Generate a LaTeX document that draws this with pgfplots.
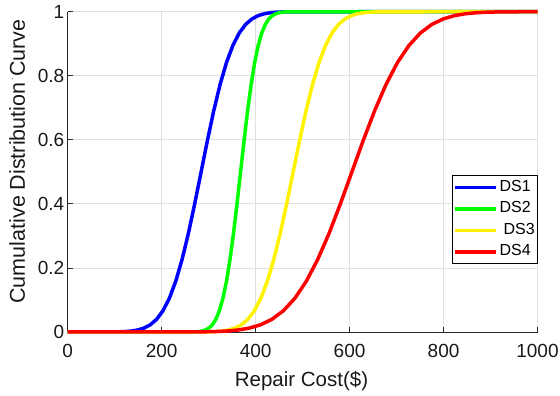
\documentclass[border=0pt]{standalone}
\usepackage{pgfplots}
\pgfplotsset{compat=1.18}
\usepackage{pgfplotstable}
\usepackage{fontspec}
\setmainfont{Liberation Sans}
\definecolor{gridc}{gray}{0.88}
\definecolor{axc}{gray}{0.15}
\newcommand\lf{\fontsize{16}{18}\selectfont}
\pgfplotstableread{
p       x1     x2     x3      x4
0       0      0      0       0
0.00023 95     263    287.5   265.5
0.00058 108.5  270.5  301.25  289.75
0.00135 122    278    315     314
0.00298 135.5  285.5  328.75  338.25
0.00621 149    293    342.5   362.5
0.01222 162.5  300.5  356.25  386.75
0.02275 176    308    370     411
0.04006 189.5  315.5  383.75  435.25
0.06681 203    323    397.5   459.5
0.10565 216.5  330.5  411.25  483.75
0.15866 230    338    425     508
0.22663 243.5  345.5  438.75  532.25
0.30854 257    353    452.5   556.5
0.40129 270.5  360.5  466.25  580.75
0.5     284    368    480     605
0.59871 297.5  375.5  493.75  629.25
0.69146 311    383    507.5   653.5
0.77337 324.5  390.5  521.25  677.75
0.84134 338    398    535     702
0.89435 351.5  405.5  548.75  726.25
0.93319 365    413    562.5   750.5
0.95994 378.5  420.5  576.25  774.75
0.97725 392    428    590     799
0.98778 405.5  435.5  603.75  823.25
0.99379 419    443    617.5   847.5
0.99702 432.5  450.5  631.25  871.75
0.99865 446    458    645     896
0.99942 459.5  465.5  658.75  920.25
0.99977 473    473    672.5   944.5
1       1000   1000   1000    1000
}\cdf
\begin{document}
\begin{tikzpicture}
\useasboundingbox (-67.7pt,-64pt) rectangle (492.3pt,332pt);
\begin{axis}[
  scale only axis,
  width=469.8pt, height=320.3pt,
  xmin=0, xmax=1000, ymin=0, ymax=1,
  xtick={0,200,...,1000}, ytick={0,0.2,...,1},
  yticklabels={0,0.2,0.4,0.6,0.8,1},
  scaled ticks=false,
  /pgf/number format/1000 sep={},
  /pgf/number format/assume math mode=true,
  axis x line*=bottom, axis y line*=left,
  axis line style={axc, line width=0.8pt, -},
  tick align=inside,
  major tick length=5pt,
  tick style={axc, line width=0.8pt},
  grid=major,
  grid style={gridc, line width=0.8pt},
  tick label style={font=\fontsize{19}{19}\selectfont, text=black!90},
  xticklabel style={yshift=-9pt},
  xlabel={Repair Cost(\$)},
  ylabel={Cumulative Distribution\kern1.5pt\raisebox{0.55em}{\fontsize{9}{9}\selectfont .}\kern1.5pt Curve},
  label style={text=black!90},
  xlabel style={font=\fontsize{20.5}{20.5}\selectfont, at={(axis description cs:0.4977,0)}, yshift=-54.7pt, anchor=base},
  ylabel style={font=\fontsize{21.5}{21.5}\selectfont, at={(axis description cs:-0.0909,0.532)}, anchor=base, rotate=0},
  clip=false,
  legend style={at={(1,0.212)}, anchor=south east, draw=black, line width=0.6pt, fill=white,
    inner xsep=1pt, inner ysep=2.5pt, row sep=2.5pt,
    nodes={inner sep=1.5pt, text height=12pt, text depth=4pt},
    cells={anchor=west}},
  legend image code/.code={\draw[#1, line width=3.5pt] (0pt,0pt) -- (41pt,0pt);},
  legend cell align=left,
]
\addplot[blue, line width=3.5pt] table[x=x1, y=p] {\cdf};
\addplot[color={rgb,1:red,0;green,1;blue,0}, line width=3.5pt] table[x=x2, y=p] {\cdf};
\addplot[yellow, line width=3.5pt] table[x=x3, y=p] {\cdf};
\addplot[red, line width=3.5pt] table[x=x4, y=p] {\cdf};
\legend{\lf DS1, \lf DS2, \lf\hspace{4pt}DS3, \lf DS4}
\end{axis}
\end{tikzpicture}
\end{document}
